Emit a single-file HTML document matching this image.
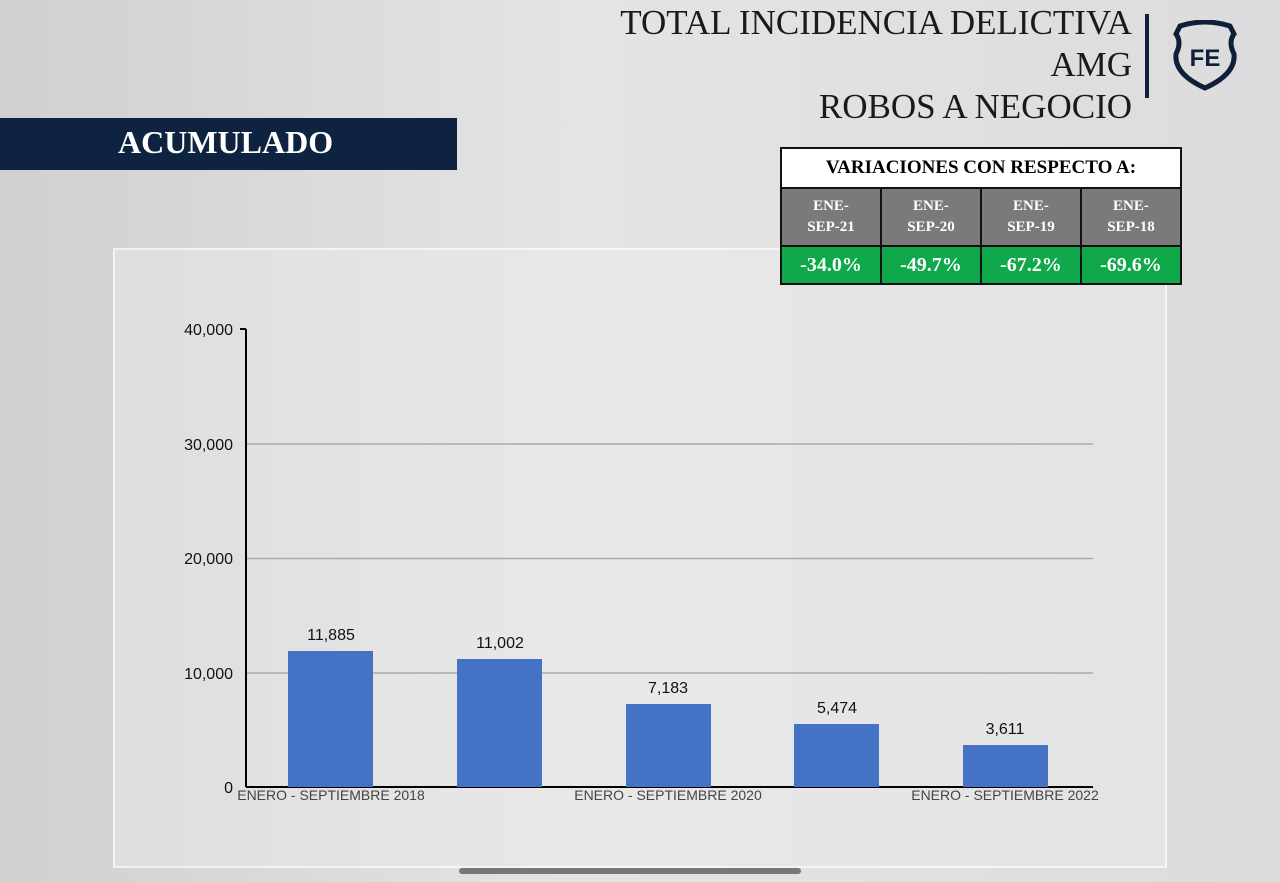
<!DOCTYPE html>
<html><head><style>
body{margin:0;width:1280px;height:882px;overflow:hidden;background:linear-gradient(90deg,#d0d0d2 0%,#e4e4e5 45%,#dcdcdd 100%);font-family:"Liberation Sans",sans-serif;position:relative}
.t{position:absolute;right:148px;font-family:"Liberation Serif",serif;font-size:35px;color:#1a1a1a;text-align:right;line-height:42px}
table{position:absolute;left:780px;top:147px;width:402px;border-collapse:collapse;font-family:"Liberation Serif",serif;font-weight:bold;text-align:center}
td{border:2px solid #111;padding:0}
</style></head><body>
<div style="position:absolute;left:113px;top:248px;width:1050px;height:616px;background:rgba(240,240,241,0.35);border:2px solid rgba(255,255,255,0.6)"></div>
<div class="t" style="top:2px">TOTAL INCIDENCIA DELICTIVA</div>
<div class="t" style="top:44px">AMG</div>
<div class="t" style="top:86px">ROBOS A NEGOCIO</div>
<div style="position:absolute;left:1145px;top:14px;width:4px;height:84px;background:#0f1f3a"></div>
<svg style="position:absolute;left:1170px;top:20px" width="70" height="72" viewBox="0 0 70 72"><path d="M10 6 Q35 -2 60 6 L64 14 Q58 22 64 34 Q66 54 35 68 Q4 54 6 34 Q12 22 6 14Z" fill="none" stroke="#0f1f3a" stroke-width="5"/><text x="35" y="46" text-anchor="middle" font-family="Liberation Sans" font-weight="bold" font-size="24" fill="#0f1f3a">FE</text></svg>
<div style="position:absolute;left:0;top:118px;width:457px;height:52px;background:#0e2340"></div>
<div style="position:absolute;left:118px;top:124px;font-family:'Liberation Serif',serif;font-weight:bold;font-size:32px;color:#fff">ACUMULADO</div>
<table>
<tr><td colspan="4" style="background:#fff;height:38px;font-size:19px">VARIACIONES CON RESPECTO A:</td></tr>
<tr style="background:#7a7a7a;color:#fff;font-size:15px;height:58px;line-height:21px"><td>ENE-<br>SEP-21</td><td>ENE-<br>SEP-20</td><td>ENE-<br>SEP-19</td><td>ENE-<br>SEP-18</td></tr>
<tr style="background:#0fa84a;color:#fff;font-size:20px;height:38px"><td>-34.0%</td><td>-49.7%</td><td>-67.2%</td><td>-69.6%</td></tr>
</table>
<svg style="position:absolute;left:0;top:0" width="1280" height="882" font-family="Liberation Sans" font-size="16">
<g stroke="#aaa" stroke-width="1.5"><line x1="246" x2="1093" y1="444" y2="444"/><line x1="246" x2="1093" y1="558.5" y2="558.5"/><line x1="246" x2="1093" y1="673" y2="673"/></g>
<line x1="246" y1="329" x2="246" y2="787" stroke="#000" stroke-width="2"/>
<line x1="246" y1="787" x2="1093" y2="787" stroke="#000" stroke-width="2"/>
<line x1="240" y1="329" x2="246" y2="329" stroke="#000" stroke-width="2"/>
<g text-anchor="end" fill="#111"><text x="233" y="335">40,000</text><text x="233" y="450">30,000</text><text x="233" y="564">20,000</text><text x="233" y="679">10,000</text><text x="233" y="793">0</text></g>
<g fill="#4472c4"><rect x="288" y="651" width="85" height="136"/><rect x="457" y="659" width="85" height="128"/><rect x="626" y="704" width="85" height="83"/><rect x="794" y="724" width="85" height="63"/><rect x="963" y="745" width="85" height="42"/></g>
<g text-anchor="middle" fill="#111"><text x="331" y="640">11,885</text><text x="500" y="648">11,002</text><text x="668" y="693">7,183</text><text x="837" y="713">5,474</text><text x="1005" y="734">3,611</text></g>
<g text-anchor="middle" fill="#444" font-size="14"><text x="331" y="800">ENERO - SEPTIEMBRE 2018</text><text x="668" y="800">ENERO - SEPTIEMBRE 2020</text><text x="1005" y="800">ENERO - SEPTIEMBRE 2022</text></g>
<rect x="459" y="868" width="342" height="6" rx="3" fill="#777"/>
</svg>
</body></html>
